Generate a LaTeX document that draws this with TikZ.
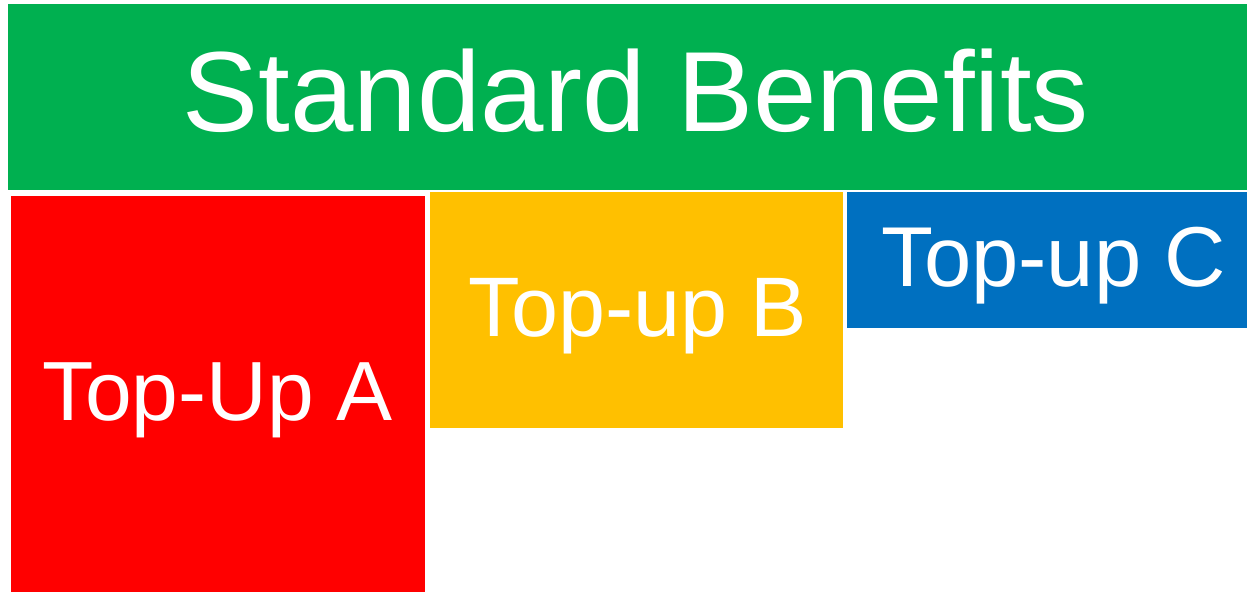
\documentclass[tikz,border=0pt]{standalone}
\usepackage{fontspec}
\setmainfont{Liberation Sans}
\definecolor{sbgreen}{HTML}{00B050}
\definecolor{tured}{HTML}{FF0000}
\definecolor{tuyellow}{HTML}{FFC000}
\definecolor{tublue}{HTML}{0070C0}
\begin{document}
\begin{tikzpicture}[x=1pt,y=-1pt,
  blockbox/.style={rectangle,draw=none,inner sep=0pt,anchor=north west},
  tutext/.style={text=white,inner sep=0pt,anchor=base,font=\fontsize{#1}{120}\selectfont}]
\useasboundingbox[fill=white] (0,0) rectangle (1247,592);
\node[blockbox,fill=sbgreen,minimum width=1239pt,minimum height=186pt] (green) at (8,4) {};
\node[blockbox,fill=tured,minimum width=414pt,minimum height=396pt] (red) at (11,196) {};
\node[blockbox,fill=tuyellow,minimum width=413pt,minimum height=236pt] (yellow) at (430,192) {};
\node[blockbox,fill=tublue,minimum width=400pt,minimum height=136pt] (blue) at (847,192) {};
\node[tutext=114] (greentext) at (636,131) {Standard Benefits};
\node[tutext=84] (redtext) at (218,420) {Top-Up A};
\node[tutext=84.5] (yellowtext) at (638,336) {Top-up B};
\node[tutext=85] (bluetext) at (1054,286) {Top-up C};
\end{tikzpicture}
\end{document}
